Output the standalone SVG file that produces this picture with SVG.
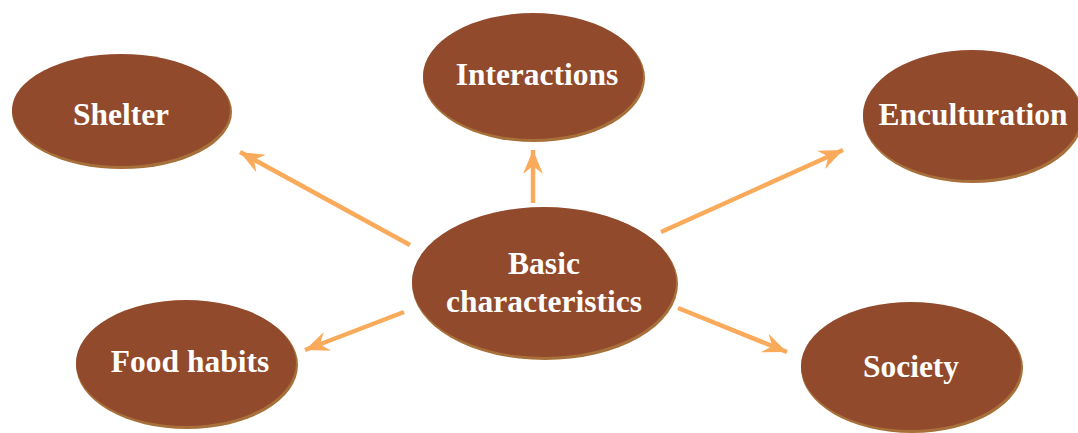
<svg xmlns="http://www.w3.org/2000/svg" width="1078" height="433" viewBox="0 0 1078 433">
<style>
.sh{fill:#a7703a}
.el{fill:#924a2c}
.t{font-family:"Liberation Serif","Times New Roman",serif;font-weight:bold;font-size:31.5px;fill:#ffffff;text-anchor:middle}
.c{stroke:#f9ab5b;stroke-width:4.5;fill:none}
</style>
<defs>
<marker id="ah" markerUnits="userSpaceOnUse" markerWidth="26" markerHeight="22" refX="24" refY="11" orient="auto" viewBox="0 0 26 22">
<path d="M0,1 L24,11 L0,21 L8,11 Z" fill="#f9ab5b"/>
</marker>
</defs>
<rect width="1078" height="433" fill="#ffffff"/>
<g id="connectors">
<line class="c" x1="410" y1="245" x2="240" y2="152" marker-end="url(#ah)"/>
<line class="c" x1="533" y1="203" x2="533" y2="150" marker-end="url(#ah)"/>
<line class="c" x1="661" y1="232" x2="843" y2="150" marker-end="url(#ah)"/>
<line class="c" x1="404" y1="312" x2="305" y2="350" marker-end="url(#ah)"/>
<line class="c" x1="678" y1="308" x2="787" y2="352" marker-end="url(#ah)"/>
</g>
<g id="shelter">
<ellipse class="sh" cx="122" cy="112" rx="110" ry="57"/>
<ellipse class="el" cx="121" cy="110" rx="109" ry="56"/>
<text class="t" x="121" y="125">Shelter</text>
</g>
<g id="interactions">
<ellipse class="sh" cx="534" cy="78" rx="111" ry="64"/>
<ellipse class="el" cx="533" cy="76" rx="110" ry="63"/>
<text class="t" x="537" y="85">Interactions</text>
</g>
<g id="enculturation">
<ellipse class="sh" cx="973" cy="117" rx="110" ry="66"/>
<ellipse class="el" cx="972" cy="115" rx="109" ry="65"/>
<text class="t" x="973" y="125">Enculturation</text>
</g>
<g id="basic">
<ellipse class="sh" cx="545" cy="284" rx="133" ry="76"/>
<ellipse class="el" cx="544" cy="282" rx="132" ry="75"/>
<text class="t" x="544" y="274">Basic</text>
<text class="t" x="544" y="312">characteristics</text>
</g>
<g id="food">
<ellipse class="sh" cx="187" cy="365" rx="111" ry="64"/>
<ellipse class="el" cx="186" cy="363" rx="110" ry="63"/>
<text class="t" x="190" y="372">Food habits</text>
</g>
<g id="society">
<ellipse class="sh" cx="912" cy="368" rx="111" ry="65"/>
<ellipse class="el" cx="911" cy="366" rx="110" ry="64"/>
<text class="t" x="911" y="377">Society</text>
</g>
</svg>
